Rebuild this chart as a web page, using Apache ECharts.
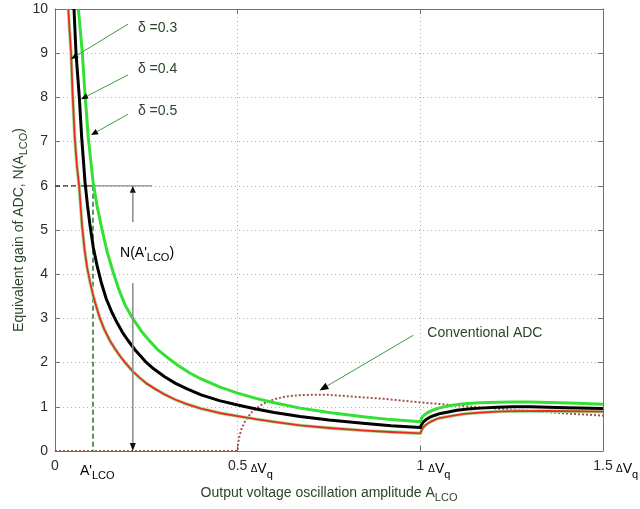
<!DOCTYPE html>
<html>
<head>
<meta charset="utf-8">
<script src="https://cdn.jsdelivr.net/npm/echarts@6/dist/echarts.min.js"></script>
<style>
  html, body { margin: 0; padding: 0; background: #ffffff; }
  #chart { width: 640px; height: 509px; }
</style>
</head>
<body>
<div id="chart"></div>
<script>
// Axis ticks (x in units of the quantization step ΔVq)
const xTicks = [0, 0.5, 1, 1.5];
const yTicks = [0, 1, 2, 3, 4, 5, 6, 7, 8, 9, 10];

// Equivalent gain N(A_LCO) for the three loop settings, as [A_LCO, N] pairs
const gainDelta03 = [
  [0.0365, 10], [0.04, 9.5], [0.044, 9], [0.048, 8.1], [0.054, 7.1], [0.06, 6.45],
  [0.066, 6], [0.074, 5.1], [0.081, 4.55], [0.088, 4.15], [0.096, 3.82], [0.105, 3.5],
  [0.114, 3.24], [0.123, 3.0], [0.135, 2.75], [0.15, 2.5], [0.165, 2.3], [0.178, 2.15],
  [0.192, 2.0], [0.213, 1.8], [0.23, 1.67], [0.25, 1.53], [0.275, 1.4], [0.3, 1.28],
  [0.33, 1.16], [0.361, 1.06], [0.4, 0.96], [0.45, 0.86], [0.5, 0.79], [0.55, 0.72],
  [0.6, 0.66], [0.671, 0.58], [0.75, 0.52], [0.85, 0.46], [0.92, 0.43], [1.0, 0.40],
  [1.003, 0.46], [1.007, 0.52], [1.012, 0.57], [1.02, 0.62], [1.03, 0.67], [1.05, 0.74],
  [1.082, 0.79], [1.12, 0.84], [1.164, 0.87], [1.21, 0.89], [1.25, 0.90], [1.35, 0.905],
  [1.45, 0.895], [1.5, 0.89]
];
const gainDelta04 = [
  [0.052, 10], [0.0575, 9], [0.062, 8.5], [0.0666, 8], [0.073, 7.1], [0.082, 6.1],
  [0.089, 5.55], [0.096, 5.1], [0.105, 4.6], [0.115, 4.2], [0.127, 3.8], [0.14, 3.45],
  [0.155, 3.15], [0.17, 2.9], [0.185, 2.68], [0.2, 2.5], [0.22, 2.28], [0.247, 2.03],
  [0.27, 1.86], [0.3, 1.68], [0.33, 1.53], [0.36, 1.41], [0.4, 1.27], [0.45, 1.14],
  [0.5, 1.04], [0.55, 0.95], [0.6, 0.87], [0.671, 0.78], [0.75, 0.70], [0.85, 0.62],
  [0.92, 0.57], [1.0, 0.53],
  [1.003, 0.59], [1.007, 0.65], [1.014, 0.70], [1.025, 0.76], [1.04, 0.81], [1.055, 0.85],
  [1.08, 0.89], [1.1, 0.92], [1.13, 0.95], [1.164, 0.97], [1.21, 0.99], [1.25, 1.0],
  [1.3, 1.0], [1.4, 0.98], [1.5, 0.96]
];
const gainDelta05 = [
  [0.064, 10], [0.07, 9.45], [0.0748, 9], [0.082, 8.1], [0.091, 7.1], [0.104, 6.1],
  [0.115, 5.55], [0.129, 5.0], [0.143, 4.5], [0.159, 4.05], [0.175, 3.65], [0.192, 3.3],
  [0.211, 3.02], [0.2375, 2.7], [0.26, 2.48], [0.28, 2.3], [0.31, 2.1], [0.338, 1.93],
  [0.37, 1.76], [0.4, 1.63], [0.45, 1.45], [0.5, 1.31], [0.55, 1.19], [0.6, 1.09],
  [0.671, 0.97], [0.75, 0.87], [0.85, 0.77], [0.92, 0.71], [1.0, 0.66],
  [1.003, 0.73], [1.007, 0.79], [1.012, 0.83], [1.02, 0.87], [1.03, 0.91], [1.05, 0.97],
  [1.082, 1.03], [1.12, 1.07], [1.164, 1.09], [1.21, 1.105], [1.25, 1.11], [1.3, 1.11],
  [1.356, 1.10], [1.43, 1.08], [1.5, 1.06]
];
// Describing function of a conventional quantizer
const gainConventional = [
  [0, 0], [0.5, 0], [0.501, 0.16], [0.505, 0.35], [0.51, 0.49], [0.52, 0.67],
  [0.53, 0.79], [0.54, 0.89], [0.56, 1.02], [0.58, 1.11], [0.6, 1.17], [0.625, 1.22],
  [0.65, 1.25], [0.675, 1.265], [0.7, 1.27], [0.75, 1.27], [0.8, 1.24], [0.85, 1.21],
  [0.9, 1.18], [0.95, 1.14], [1.0, 1.10], [1.1, 1.03], [1.2, 0.965], [1.3, 0.905],
  [1.4, 0.85], [1.5, 0.80]
];
// Operating point A'_LCO and its gain
const aLco = 0.104;
const nAtALco = 6;

const FONT = '"Liberation Sans", Arial, sans-serif';
const TITLE_COLOR = '#2a452a';
const LABEL_COLOR = '#2b2b2b';
const FRAME = '#707070';

const chart = echarts.init(document.getElementById('chart'), null, { renderer: 'canvas' });

const frameAxis = (extra) => Object.assign({
  type: 'value',
  axisLine: { show: true, onZero: false, lineStyle: { color: FRAME, width: 1 } },
  axisTick: { show: true, inside: true, length: 5, lineStyle: { color: FRAME } },
  splitLine: { show: false },
  axisLabel: { show: false }
}, extra);

const subRich = {
  a: { fontSize: 14, fontFamily: FONT, color: TITLE_COLOR, lineHeight: 16 },
  s: { fontSize: 11, fontFamily: FONT, color: TITLE_COLOR, lineHeight: 16, padding: [9, 0, 0, 0] }
};

const curveBase = { type: 'line', showSymbol: false, smooth: false };

const option = {
  animation: false,
  backgroundColor: '#ffffff',
  grid: { left: 55, right: 37, top: 9, bottom: 58, containLabel: false, outerBoundsMode: 'none' },
  xAxis: [
    frameAxis({
      min: xTicks[0], max: xTicks[xTicks.length - 1], interval: 0.5,
      position: 'bottom',
      splitLine: { show: true, lineStyle: { color: '#8fc88f', type: [1, 3], width: 1 } },
      axisLabel: {
        show: true, fontSize: 14, fontFamily: FONT, color: LABEL_COLOR, margin: 8,
        formatter: (v) => String(v)
      },
      name: '{a|Output voltage oscillation amplitude A}{s|LCO}',
      nameLocation: 'middle', nameGap: 34, nameMoveOverlap: false,
      nameTextStyle: { rich: subRich }
    }),
    frameAxis({ min: 0, max: 1.5, interval: 0.5, position: 'top' })
  ],
  yAxis: [
    frameAxis({
      min: yTicks[0], max: yTicks[yTicks.length - 1], interval: 1,
      position: 'left',
      splitLine: { show: true, lineStyle: { color: '#8fc88f', type: [1, 3], width: 1 } },
      axisLabel: { show: true, fontSize: 14, fontFamily: FONT, color: LABEL_COLOR, margin: 7 },
      name: '{a|Equivalent gain of ADC, N(A}{s|LCO}{a|)}',
      nameLocation: 'middle', nameGap: 28, nameRotate: 90, nameMoveOverlap: false,
      nameTextStyle: { rich: subRich }
    }),
    frameAxis({ min: 0, max: 10, interval: 1, position: 'right' })
  ],
  series: [
    Object.assign({}, curveBase, {
      name: 'Conventional ADC', data: gainConventional, z: 2,
      lineStyle: { color: '#a0554c', width: 2, type: [2, 2] }
    }),
    {
      // A'_LCO construction: dashed guide lines
      name: 'guide-h', type: 'line', data: [[0, nAtALco], [aLco, nAtALco]],
      showSymbol: false, z: 3,
      lineStyle: { color: '#333333', width: 1.2, type: [5, 3] }
    },
    {
      name: 'guide-v', type: 'line', data: [[aLco, nAtALco], [aLco, 0]],
      showSymbol: false, z: 3,
      lineStyle: { color: '#2f6a3a', width: 1.5, type: [5, 3] }
    },
    {
      name: 'guide-h2', type: 'line', data: [[aLco, nAtALco], [0.266, nAtALco]],
      showSymbol: false, z: 3,
      lineStyle: { color: '#8a8a8a', width: 1.2 }
    },
    Object.assign({}, curveBase, {
      name: 'δ=0.3 halo', data: gainDelta03, z: 4,
      lineStyle: { color: '#9be09b', width: 3.4, join: 'round' }
    }),
    Object.assign({}, curveBase, {
      name: 'δ=0.3', data: gainDelta03, z: 5,
      lineStyle: { color: '#ee2a1e', width: 1.8, join: 'round' }
    }),
    Object.assign({}, curveBase, {
      name: 'δ=0.4', data: gainDelta04, z: 5,
      lineStyle: { color: '#000000', width: 3, join: 'round' }
    }),
    Object.assign({}, curveBase, {
      name: 'δ=0.5', data: gainDelta05, z: 5,
      lineStyle: { color: '#33e033', width: 3, join: 'round' }
    })
  ]
};

chart.setOption(option);

// Annotations anchored in data coordinates
const px = (x, y) => chart.convertToPixel({ gridIndex: 0 }, [x, y]);

function arrow(from, to, lineColor, headColor, lineWidth, headLen, headW) {
  const a = px(from[0], from[1]);
  const b = px(to[0], to[1]);
  const dx = b[0] - a[0], dy = b[1] - a[1];
  const len = Math.hypot(dx, dy);
  const ux = dx / len, uy = dy / len;
  const bx = b[0] - ux * headLen, by = b[1] - uy * headLen;
  return [
    { type: 'line', z: 20, shape: { x1: a[0], y1: a[1], x2: bx, y2: by },
      style: { stroke: lineColor, lineWidth: lineWidth } },
    { type: 'polygon', z: 21,
      shape: { points: [[b[0], b[1]], [bx - uy * headW, by + ux * headW], [bx + uy * headW, by - ux * headW]] },
      style: { fill: headColor } }
  ];
}

function text(x, y, t, opts) {
  const p = px(x, y);
  return {
    type: 'text', z: 30, x: p[0], y: p[1],
    style: Object.assign({
      text: t, font: '14px ' + FONT, fill: TITLE_COLOR,
      textAlign: 'left', textVerticalAlign: 'middle'
    }, opts || {})
  };
}

const deltaLabels = [
  { label: 'δ =0.3', at: [0.227, 9.57], from: [0.2, 9.66], to: [0.044, 8.87] },
  { label: 'δ =0.4', at: [0.227, 8.64], from: [0.2, 8.51], to: [0.0712, 7.96] },
  { label: 'δ =0.5', at: [0.227, 7.69], from: [0.2, 7.62], to: [0.0986, 7.15] }
];

let elements = [];
deltaLabels.forEach(d => {
  elements.push(text(d.at[0], d.at[1], d.label));
  elements = elements.concat(arrow(d.from, d.to, '#3f9a3f', '#000000', 1, 7, 3));
});

// Conventional ADC callout
elements.push(text(1.019, 2.67, 'Conventional ADC'));
elements = elements.concat(arrow([0.981, 2.62], [0.724, 1.37], '#3f9a3f', '#000000', 1, 9, 3.5));

// N(A'_LCO) span arrows
elements = elements.concat(arrow([0.213, 5.18], [0.213, nAtALco], '#8a8a8a', '#111111', 1.5, 7, 3));
elements = elements.concat(arrow([0.213, 3.8], [0.213, 0], '#8a8a8a', '#111111', 1.5, 8, 3));
(function () {
  const p = px(0.178, 4.48);
  elements.push({
    type: 'text', z: 30, x: p[0], y: p[1],
    style: {
      text: "{a|N(A'}{s|LCO}{a|)}",
      textVerticalAlign: 'middle',
      rich: subRich
    }
  });
})();

// x-axis annotations: A'_LCO and the ΔVq unit marks
(function () {
  const p = px(aLco, 0);
  elements.push({
    type: 'text', z: 30, x: p[0] - 13, y: p[1] + 20,
    style: { text: "{a|A'}{s|LCO}", textVerticalAlign: 'middle', rich: {
      a: { fontSize: 14, fontFamily: FONT, color: LABEL_COLOR, lineHeight: 16 },
      s: { fontSize: 11, fontFamily: FONT, color: LABEL_COLOR, lineHeight: 16, padding: [9, 0, 0, 0] }
    } }
  });
  const unitRich = {
    d: { fontSize: 10, fontFamily: FONT, color: LABEL_COLOR, lineHeight: 16, padding: [4, 0, 0, 0] },
    v: { fontSize: 14, fontFamily: FONT, color: LABEL_COLOR, lineHeight: 16, padding: [4, 0, 0, 0] },
    q: { fontSize: 11, fontFamily: FONT, color: LABEL_COLOR, lineHeight: 16, padding: [15, 0, 0, 0] }
  };
  [[0.5, 13], [1, 8], [1.5, 13]].forEach(([v, off]) => {
    const q = px(v, 0);
    elements.push({
      type: 'text', z: 30, x: q[0] + off, y: q[1] + 16,
      style: { text: '{d|Δ}{v|V}{q|q}', textVerticalAlign: 'middle', rich: unitRich }
    });
  });
})();

chart.setOption({ graphic: { elements: elements } });
</script>
</body>
</html>
